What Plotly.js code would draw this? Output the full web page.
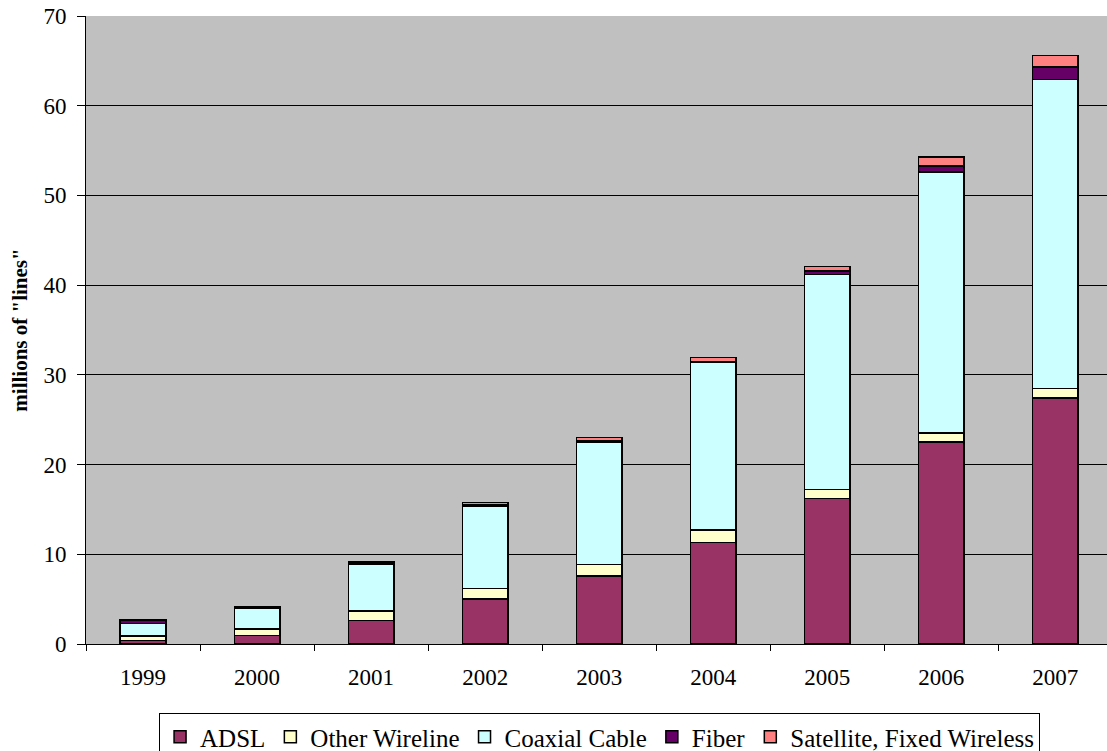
<!DOCTYPE html>
<html>
<head>
<meta charset="utf-8">
<script src="https://cdn.plot.ly/plotly-3.0.1.min.js"></script>
<style>html,body{margin:0;padding:0;background:#fff;}#chart{width:1107px;height:751px;}</style>
</head>
<body>
<div id="chart"></div>
<script>
const years = ["1999","2000","2001","2002","2003","2004","2005","2006","2007"];
const adsl = [0.37, 0.95, 2.6, 5.0, 7.6, 11.3, 16.2, 22.5, 27.4];
const otherWireline = [0.5, 0.75, 1.1, 1.2, 1.24, 1.4, 1.0, 1.0, 1.1];
const coaxialCable = [1.44, 2.27, 5.15, 9.2, 13.66, 18.7, 24.0, 29.1, 34.4];
const fiber = [0.3, 0.1, 0.2, 0.15, 0.15, 0.1, 0.35, 0.7, 1.4];
const satelliteWireless = [0.05, 0.05, 0.1, 0.25, 0.35, 0.45, 0.55, 1.0, 1.3];

const seriesNames = ["ADSL", "Other Wireline", "Coaxial Cable", "Fiber", "Satellite, Fixed Wireless"];
const seriesData = [adsl, otherWireline, coaxialCable, fiber, satelliteWireless];
const seriesColors = ["#993366", "#FFFFCC", "#CCFFFF", "#660066", "#FF8080"];

const traces = seriesNames.map((name, i) => ({
  type: "bar",
  name: name,
  x: years,
  y: seriesData[i],
  marker: { color: seriesColors[i], line: { color: "#000000", width: 1.5 } },
  hoverinfo: "x+y+name"
}));

const font = "Liberation Serif, Times New Roman, serif";
const layout = {
  width: 1107,
  height: 751,
  barmode: "stack",
  bargap: 0.6,
  paper_bgcolor: "#ffffff",
  plot_bgcolor: "#C0C0C0",
  margin: { l: 86, r: 0, t: 16, b: 107, pad: 0, autoexpand: false },
  font: { family: font, color: "#000000", size: 23 },
  xaxis: {
    type: "category",
    range: [-0.5, 8.453],
    tickson: "boundaries",
    ticks: "outside",
    ticklen: 6,
    tickcolor: "#000000",
    showline: true,
    linecolor: "#000000",
    linewidth: 1,
    showgrid: false,
    tickfont: { family: font, size: 23 },
    ticklabelstandoff: 12,
    automargin: false,
    fixedrange: true
  },
  yaxis: {
    range: [0, 70],
    dtick: 10,
    ticks: "outside",
    ticklen: 8,
    tickcolor: "#000000",
    showline: true,
    linecolor: "#000000",
    linewidth: 1,
    showgrid: true,
    gridcolor: "#000000",
    gridwidth: 1,
    zeroline: false,
    tickfont: { family: font, size: 23 },
    ticklabelstandoff: 6,
    automargin: false,
    title: { text: "<b>millions of \"lines\"</b>", font: { family: font, size: 21 }, standoff: 10 },
    fixedrange: true
  },
  showlegend: true,
  legend: {
    orientation: "h",
    x: 0.503,
    xanchor: "center",
    y: -0.11,
    yanchor: "top",
    bordercolor: "#000000",
    borderwidth: 1,
    bgcolor: "#ffffff",
    font: { family: font, size: 25 },
    traceorder: "normal",
    itemwidth: 30
  }
};

Plotly.newPlot("chart", traces, layout, { displayModeBar: false, staticPlot: true });
</script>
</body>
</html>
